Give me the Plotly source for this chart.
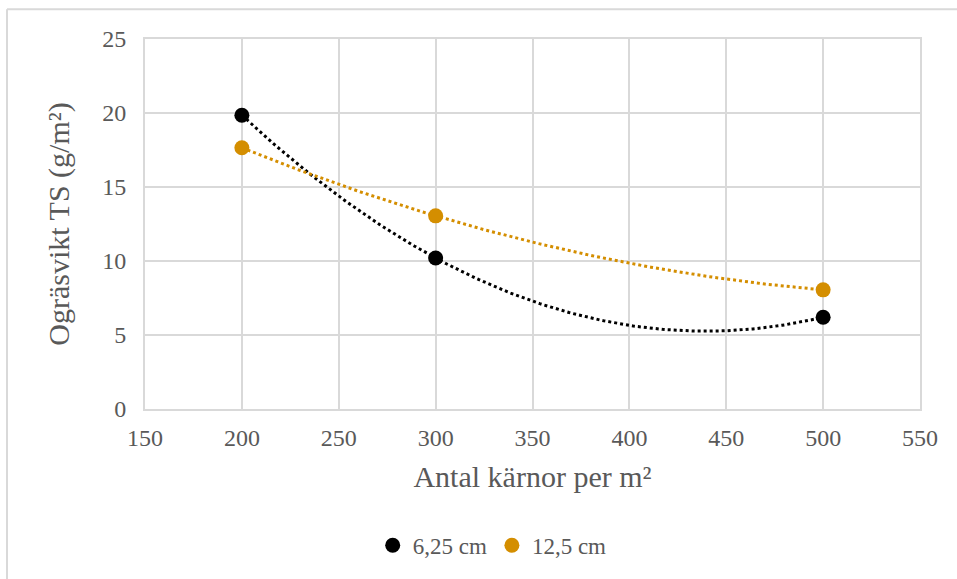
import numpy as np
import plotly.graph_objects as go

x_vals = [200, 300, 500]
series_names = ["6,25 cm", "12,5 cm"]
y_625 = [19.85, 10.2, 6.2]
y_125 = [17.65, 13.05, 8.05]
colors = ["#000000", "#D48E00"]

W, H = 957, 579
ml, mr, mt, mb = 145, 37, 39, 168
pw, ph = W - ml - mr, H - mt - mb

fig = go.Figure()
xs = np.linspace(200, 500, 200)
for name, ys, c in zip(series_names, [y_625, y_125], colors):
    coef = np.polyfit(x_vals, ys, 2)
    fig.add_trace(go.Scatter(x=xs, y=np.polyval(coef, xs), mode="lines",
                             line=dict(color=c, width=3, dash="dot"),
                             showlegend=False, hoverinfo="skip"))
for name, ys, c in zip(series_names, [y_625, y_125], colors):
    fig.add_trace(go.Scatter(x=x_vals, y=ys, mode="markers", name=name,
                             marker=dict(color=c, size=15)))

font = "Liberation Serif, Times New Roman, serif"
grid = "#D9D9D9"
tick_font = dict(size=24, color="#595959")
title_font = dict(size=30, color="#595959")
fig.update_layout(
    width=W, height=H,
    margin=dict(l=ml, r=mr, t=mt, b=mb),
    paper_bgcolor="white", plot_bgcolor="white",
    font=dict(family=font, color="#595959", size=24),
    showlegend=True,
    legend=dict(orientation="h", x=0.448, xanchor="center", y=(411 - 548) / ph, yanchor="middle",
                font=dict(size=23, color="#595959"), itemwidth=30,
                tracegroupgap=0),
    xaxis=dict(range=[150, 550], dtick=50, tick0=150, showgrid=True, gridcolor=grid, gridwidth=2,
               zeroline=False, showline=True, linecolor=grid, linewidth=2, mirror=True,
               ticks="", ticklabelstandoff=6, tickfont=tick_font,
               title=dict(text="Antal kärnor per m²", font=title_font, standoff=16)),
    yaxis=dict(range=[0, 25], dtick=5, showgrid=True, gridcolor=grid, gridwidth=2,
               zeroline=False, showline=True, linecolor=grid, linewidth=2, mirror=True,
               ticks="", ticklabelstandoff=12, tickfont=tick_font,
               title=dict(text="Ogräsvikt TS (g/m²)", font=title_font, standoff=24)),
    shapes=[
        dict(type="line", xref="paper", yref="paper", x0=(7 - ml) / pw, x1=(W + 5 - ml) / pw,
             y0=(411 - 9) / ph, y1=(411 - 9) / ph, line=dict(color=grid, width=2)),
        dict(type="line", xref="paper", yref="paper", x0=(7 - ml) / pw, x1=(7 - ml) / pw,
             y0=(411 - 9) / ph, y1=(411 - H - 5) / ph, line=dict(color=grid, width=2)),
    ],
)
fig.write_html("out.html")
